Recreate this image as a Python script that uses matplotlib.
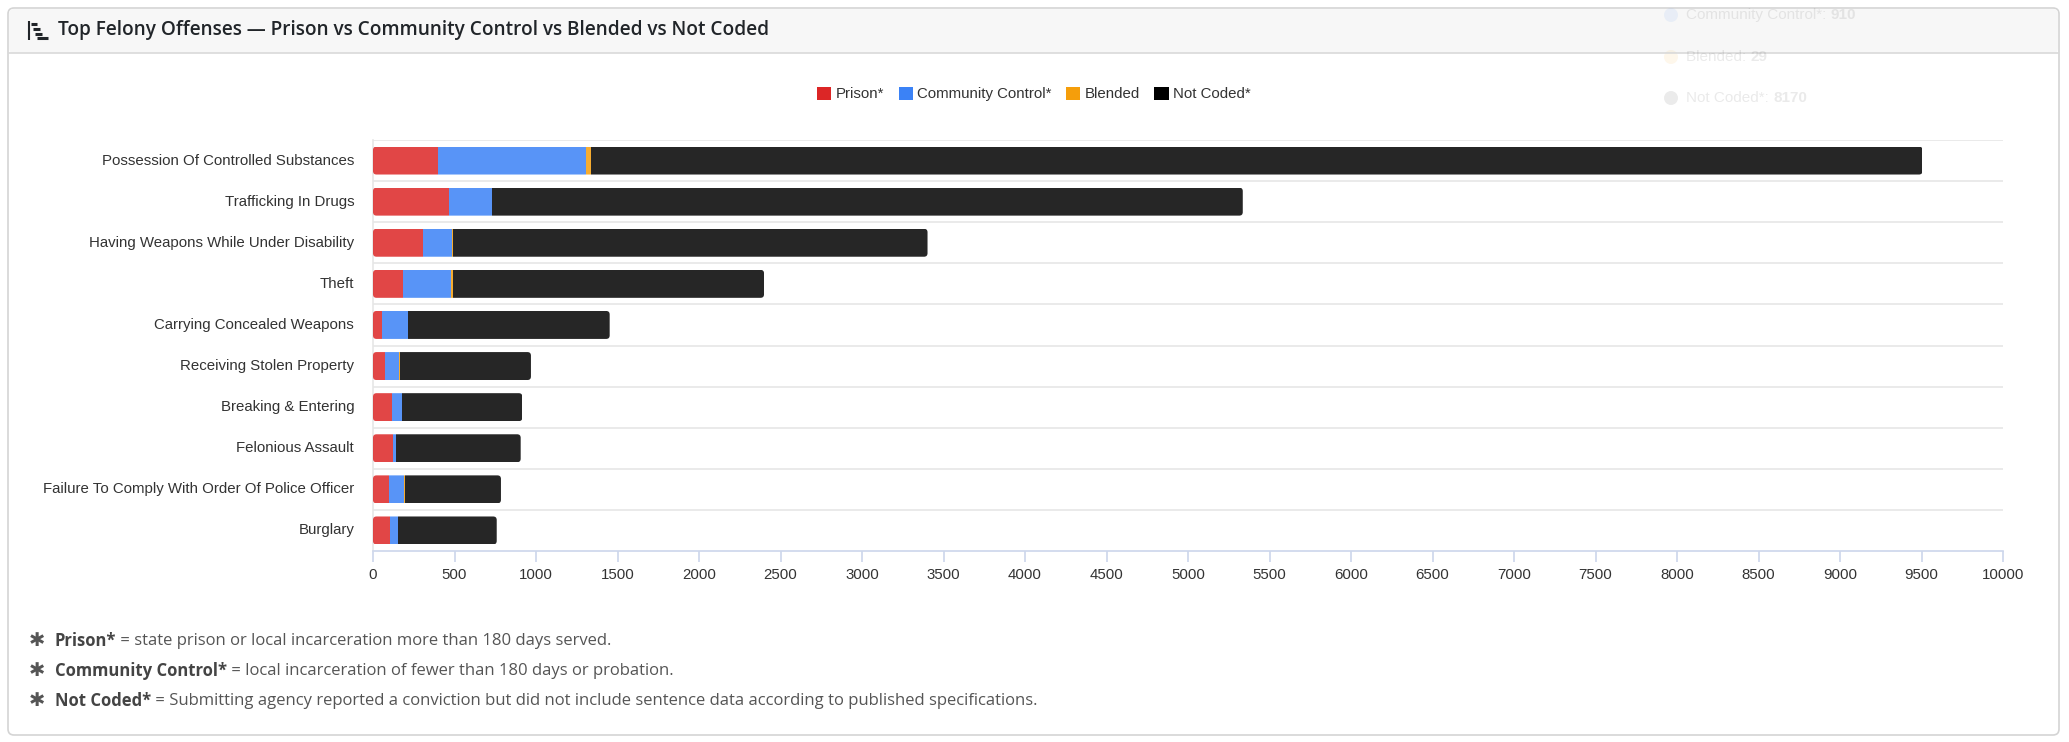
import numpy as np
import matplotlib.pyplot as plt
from matplotlib.patches import FancyBboxPatch, Patch

plt.rcParams["font.family"] = ["Liberation Sans", "DejaVu Sans"]

W, H = 2069, 742

offenses = [
    "Possession Of Controlled Substances",
    "Trafficking In Drugs",
    "Having Weapons While Under Disability",
    "Theft",
    "Carrying Concealed Weapons",
    "Receiving Stolen Property",
    "Breaking & Entering",
    "Felonious Assault",
    "Failure To Comply With Order Of Police Officer",
    "Burglary",
]
prison = [397, 466, 307, 186, 55, 76, 119, 125, 100, 106]
community = [910, 262, 176, 295, 160, 86, 59, 14, 92, 49]
blended = [29, 5, 5, 10, 2, 3, 2, 1, 3, 1]
not_coded = [8170, 4603, 2914, 1908, 1235, 804, 736, 766, 590, 603]

series_names = ["Prison*", "Community Control*", "Blended", "Not Coded*"]
series_colors = ["#dc2626", "#3b82f6", "#f59e0b", "#000000"]

x_ticks = np.arange(0, 10001, 500)

fig = plt.figure(figsize=(W / 100, H / 100), dpi=100)

# background layer in pixel coordinates: card, header, icon, notes
bg = fig.add_axes([0, 0, 1, 1], zorder=0)
bg.set_xlim(0, W)
bg.set_ylim(H, 0)
bg.axis("off")

bg.add_patch(FancyBboxPatch((8, 8), 2051, 727, boxstyle="round,pad=0,rounding_size=6",
                            facecolor="white", edgecolor="#d4d4d4", linewidth=1.2))
bg.add_patch(FancyBboxPatch((9, 9), 2049, 44, boxstyle="round,pad=0,rounding_size=5",
                            facecolor="#f7f7f7", edgecolor="none"))
bg.plot([9, 2058], [53, 53], color="#d9d9d9", linewidth=1.2)

# bar-chart-steps icon
bg.plot([29, 29], [21, 40], color="#212529", linewidth=1.5, solid_capstyle="butt")
for x0, x1, yy in [(31, 37, 23.5), (33, 40, 28.5), (35, 42, 33.5), (37, 48, 38)]:
    bg.plot([x0, x1], [yy, yy], color="#212529", linewidth=2.2, solid_capstyle="butt")

bg.text(58, 30, "Top Felony Offenses \u2014 Prison vs Community Control vs Blended vs Not Coded",
        fontsize=13.7, fontweight="semibold", family=["Open Sans", "DejaVu Sans"],
        color="#212529", va="center", ha="left")

# faded tooltip left over in the corner
tip_rows = [("Community Control*: ", "910", "#3b82f6", 15),
            ("Blended: ", "29", "#f59e0b", 57),
            ("Not Coded*: ", "8170", "#000000", 98)]

# chart
ax = fig.add_axes([373 / W, 1 - 551 / H, 1630 / W, 411 / H], zorder=1)
ax.patch.set_alpha(0)
y = np.arange(len(offenses))
left = np.zeros(len(offenses))
segs = []
for vals, col in zip([prison, community, blended, not_coded], series_colors):
    bars = ax.barh(y, vals, left=left, height=0.68, color=col, alpha=0.85,
                   linewidth=0, zorder=3)
    segs.append(bars)
    left = left + np.array(vals)

ax.set_xlim(0, 10000)
ax.set_ylim(len(offenses) - 0.5, -0.5)

# round the two ends of every stacked bar
px_x = 10000 / 1630
asp = (len(offenses) / 411) / px_x
for i in range(len(offenses)):
    clip = FancyBboxPatch((0, i - 0.34), left[i], 0.68,
                          boxstyle=f"round,pad=0,rounding_size={3.5 * px_x}",
                          mutation_aspect=asp, transform=ax.transData,
                          facecolor="none", edgecolor="none")
    ax.add_patch(clip)
    for bars in segs:
        bars[i].set_clip_path(clip)

for b in np.arange(-0.5, len(offenses) - 0.5, 1.0):
    ax.axhline(b, color="#e6e6e6", linewidth=1.2, zorder=1)

ax.set_yticks(y)
ax.set_yticklabels(offenses, fontsize=10.8, color="#333333", va="bottom")
for lab in ax.get_yticklabels():
    lab.set_verticalalignment("center")
ax.tick_params(axis="y", length=0, pad=13.5)
ax.set_xticks(x_ticks)
ax.set_xticklabels([str(t) for t in x_ticks], fontsize=10.8, color="#333333")
ax.tick_params(axis="x", length=8, width=1.2, color="#ccd6eb", pad=4.5)

for s in ["top", "right"]:
    ax.spines[s].set_visible(False)
ax.spines["bottom"].set_color("#ccd6eb")
ax.spines["bottom"].set_linewidth(1.2)
ax.spines["left"].set_color("#e6e6e6")
ax.spines["left"].set_linewidth(1.2)

handles = [Patch(facecolor=c, edgecolor="none") for c in series_colors]
fig.legend(handles, series_names, loc="center", bbox_to_anchor=(1034 / W, 1 - 94 / H),
           ncol=4, frameon=False, fontsize=10.8, handlelength=0.95, handleheight=0.95,
           handletextpad=0.3, columnspacing=0.95, labelcolor="#333333")

# footnotes
notes = [("Prison*", " = state prison or local incarceration more than 180 days served.", 641),
         ("Community Control*", " = local incarceration of fewer than 180 days or probation.", 671),
         ("Not Coded*", " = Submitting agency reported a conviction but did not include sentence data according to published specifications.", 701)]

fig.canvas.draw()
r = fig.canvas.get_renderer()
note_font = ["Open Sans", "DejaVu Sans"]
for bold, rest, yy in notes:
    bg.text(37, yy, "\u2731", fontsize=14, color="#555555", family=["DejaVu Sans"],
            ha="center", va="center")
    t = bg.text(55, yy, bold, fontsize=12, fontweight="bold", family=note_font,
                color="#444444", ha="left", va="center")
    ext = t.get_window_extent(renderer=r)
    bg.text(ext.x1, yy, rest, fontsize=12, family=note_font, color="#555555",
            ha="left", va="center")

for label, val, col, yy in tip_rows:
    bg.add_patch(plt.Circle((1671, yy), 7, facecolor=col, alpha=0.08, edgecolor="none"))
    t = bg.text(1686, yy, label, fontsize=11, color="#333333", alpha=0.1,
                ha="left", va="center")
    ext = t.get_window_extent(renderer=r)
    bg.text(ext.x1, yy, val, fontsize=11, fontweight="bold", color="#333333",
            alpha=0.1, ha="left", va="center")

fig.savefig("out.png", dpi=100, facecolor="white")
plt.close(fig)
